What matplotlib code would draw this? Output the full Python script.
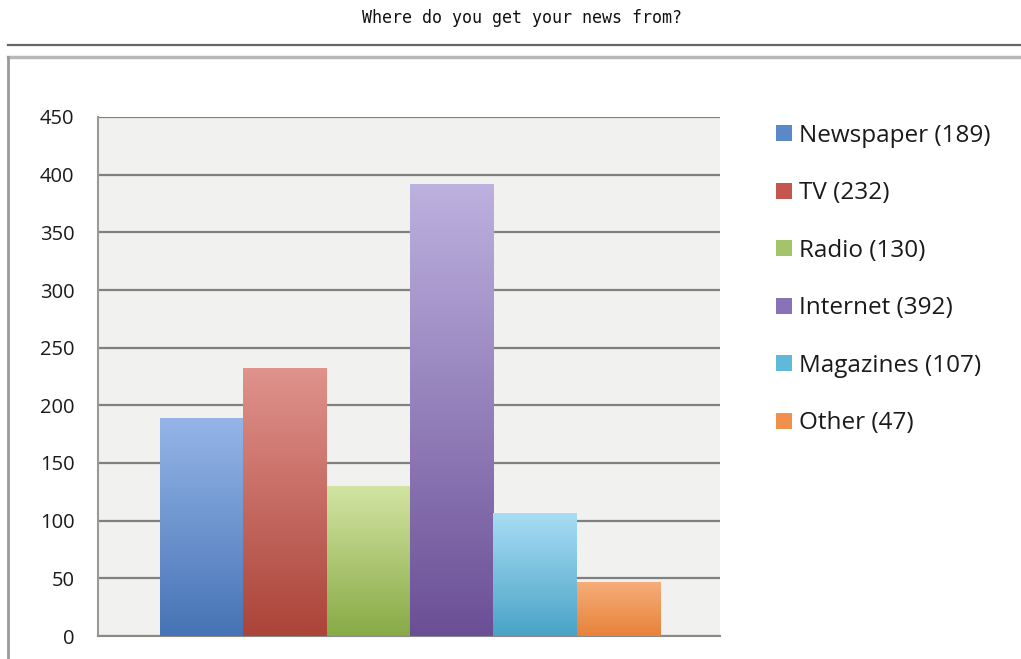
import matplotlib
matplotlib.use("Agg")
import matplotlib.pyplot as plt
import numpy as np
from matplotlib.colors import LinearSegmentedColormap
from matplotlib.lines import Line2D
from matplotlib.patches import Patch

# Survey answers
sources = ["Newspaper", "TV", "Radio", "Internet", "Magazines", "Other"]
counts = [189, 232, 130, 392, 107, 47]
yticks = [0, 50, 100, 150, 200, 250, 300, 350, 400, 450]

# gradient colours for each bar (top, bottom)
tops = ["#95b5e8", "#e0928c", "#d2e4a2", "#bdb1df", "#a9ddf5", "#f6ae7a"]
bottoms = ["#4673b5", "#ab4439", "#88aa46", "#6b4f96", "#4aa3c6", "#e8823a"]
swatch = ["#5b88c8", "#c5564c", "#a4c46a", "#8a72b6", "#60b8dc", "#f0904c"]

W, H = 1021, 659
fig = plt.figure(figsize=(W / 100, H / 100), dpi=100)
fig.patch.set_facecolor("white")

# title and page rules
fig.text(522 / W, 1 - 18 / H, "Where do you get your news from?",
         family="DejaVu Sans Mono", fontsize=12, ha="center", va="center", color="#111111")
fig.add_artist(Line2D([8 / W, 1], [1 - 45 / H] * 2, color="#666666", lw=1.6))
fig.add_artist(Line2D([8 / W, 1], [1 - 57 / H] * 2, color="#b8b8b8", lw=2.5))
fig.add_artist(Line2D([8 / W] * 2, [0, 1 - 57 / H], color="#9a9a9a", lw=2))

ax = fig.add_axes([98 / W, (H - 636) / H, 622 / W, 519 / H])
ax.set_facecolor("#f1f1ef")

x = np.arange(len(sources))
bars = ax.bar(x, counts, width=1.0, color="none", edgecolor="none", zorder=3)

# fill each bar with a vertical gradient
grad = np.linspace(1, 0, 256).reshape(-1, 1)
for b, c0, c1 in zip(bars, tops, bottoms):
    cmap = LinearSegmentedColormap.from_list("g", [c1, c0])
    x0, w, h = b.get_x(), b.get_width(), b.get_height()
    im = ax.imshow(grad, cmap=cmap, extent=[x0, x0 + w, 0, h], aspect="auto",
                   origin="upper", zorder=3, vmin=0, vmax=1)
    im.set_clip_path(b)

ax.set_xlim(-1.244, 6.22)
ax.set_ylim(0, 450)
ax.set_yticks(yticks)
ax.set_yticklabels([str(t) for t in yticks], family="Open Sans", fontsize=14.5, color="#1a1a1a")
ax.tick_params(axis="y", length=0, pad=17)
ax.set_xticks([])
ax.yaxis.grid(True, color="#808080", lw=1.6)
ax.set_axisbelow(True)
for s in ["top", "right"]:
    ax.spines[s].set_visible(False)
ax.spines["left"].set_color("#9a9a9a")
ax.spines["left"].set_linewidth(1.5)
ax.spines["bottom"].set_color("#8a8a8a")
ax.spines["bottom"].set_linewidth(1.5)

handles = [Patch(facecolor=c, edgecolor="none") for c in swatch]
labels = [f"{s} ({n})" for s, n in zip(sources, counts)]
fig.legend(handles, labels, loc="upper left", bbox_to_anchor=(766 / W, 1 - 114 / H),
           frameon=False, prop={"family": "Open Sans", "size": 17.5},
           handlelength=0.65, handleheight=0.65, handletextpad=0.3, labelspacing=1.38,
           borderaxespad=0, labelcolor="#1a1a1a")

fig.savefig("out.png", dpi=100)
